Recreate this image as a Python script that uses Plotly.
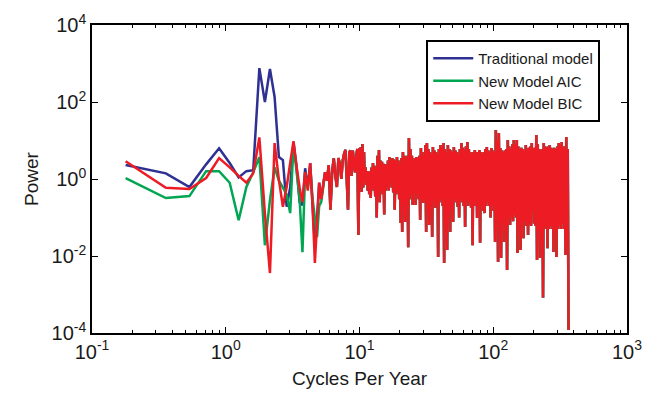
import numpy as np
import plotly.graph_objects as go

# ---------------- data ----------------
FREQ_STEP = 365.25 / 2048          # cycles per year per frequency bin
LAST_FREQ = 365.25                  # highest frequency shown
DENSE_START = 10.26                 # first frequency of the dense (>10 cpy) part

# bins k = 1..30 (values differ between models)
BLUE_LOW = [2.3, 1.4, 0.62, 2.4, 6.3, 2.6, 1.1, 1.6, 1.7, 760, 100, 720, 135, 3.7, 3.1,
            0.19, 0.6, 9.0, 2.0, 0.25, 0.21, 1.9, 0.6, 2.6, 0.2, 0.02, 0.1, 0.8, 0.3, 0.7]
RED_LOW = [2.9, 0.59, 0.55, 1.06, 3.5, 2.0, 1.2, 0.8, 1.4, 12, 0.13, 0.0036, 8.6, 0.95, 0.19,
           0.62, 2.6, 9.6, 2.0, 0.6, 0.25, 1.5, 0.5, 2.6, 0.2, 0.0066, 0.07, 0.8, 0.3, 0.7]
GREEN_LOW = [1.06, 0.32, 0.36, 1.6, 1.6, 0.8, 0.085, 0.62, 1.5, 3.7, 0.019, 0.28, 2.0, 0.9, 0.6,
             0.4, 0.13, 8.0, 1.5, 0.3, 0.0126, 1.5, 0.6, 2.0, 0.3, 0.1, 0.031, 0.2, 0.25, 0.6]

# bins k = 31..56 (models practically coincide)
SHARED_MID = [1.5, 0.9, 2.3, 0.16, 1.5, 3.5, 1.2, 0.62, 3.5, 2.5, 1.0, 3.0, 4.5, 5.7, 1.0,
              0.16, 5.0, 5.5, 1.2, 5.5, 2.5, 1.5, 4.0, 6.0, 0.035, 6.0]

# dense part (10 .. 365 cpy): successive local maxima / minima of the spectrum
DENSE_HIGH = [6.4, 8.1, 5.0, 2.0, 1.6, 1.5, 1.6, 2.0, 2.6, 2.2, 2.0, 4.0, 5.7, 3.0, 2.8, 2.5, 2.4,
              2.3, 3.0, 3.7, 3.0, 3.5, 3.2, 3.0, 3.7, 3.0, 2.5, 3.5, 5.0, 4.0, 3.5, 4.0, 11.6, 6.0,
              4.0, 3.1, 3.5, 3.7, 3.5, 4.0, 6.4, 5.0, 4.0, 7.6, 8.6, 6.0, 5.0, 4.5, 6.8, 5.5, 5.0,
              4.5, 6.0, 7.6, 6.5, 8.6, 6.0, 5.0, 7.6, 6.0, 5.5, 5.0, 6.8, 5.5, 5.0, 4.5, 6.0, 8.6,
              6.5, 5.5, 7.0, 9.1, 6.0, 5.0, 4.5, 5.0, 5.7, 5.0, 5.0, 5.7, 5.0, 4.5, 5.0, 6.0, 6.8,
              5.5, 5.0, 6.4, 5.5, 5.0, 18.7, 10.0, 15.6, 6.4, 5.5, 5.0, 5.5, 6.0, 10.3, 7.0, 6.0,
              8.0, 10.3, 8.0, 10.3, 7.0, 6.0, 6.5, 6.0, 5.5, 7.6, 6.0, 6.5, 7.0, 8.6, 6.0, 6.5,
              13.9, 8.0, 6.0, 5.5, 6.0, 8.6, 7.0, 6.5, 7.0, 7.6, 6.5, 6.0, 6.5, 6.0, 7.0, 8.6, 8.0,
              9.1, 7.0, 7.0, 12.3, 6.0]
DENSE_LOW = [0.46, 0.6, 0.9, 0.7, 0.5, 0.4, 0.32, 0.6, 0.5, 0.35, 0.1, 0.5, 0.25, 0.5, 0.4, 0.12,
             0.5, 0.6, 0.5, 0.9, 0.6, 0.45, 0.16, 0.4, 0.5, 0.3, 0.072, 0.042, 0.4, 0.076, 0.3,
             0.017, 0.3, 0.4, 0.21, 0.5, 0.21, 0.4, 0.3, 0.086, 0.3, 0.24, 0.3, 0.042, 0.35,
             0.064, 0.25, 0.031, 0.3, 0.18, 0.3, 0.0094, 0.25, 0.3, 0.2, 0.0066, 0.25, 0.0144,
             0.3, 0.042, 0.2, 0.076, 0.3, 0.25, 0.19, 0.1, 0.3, 0.25, 0.2, 0.057, 0.3, 0.2, 0.25,
             0.18, 0.019, 0.25, 0.2, 0.097, 0.25, 0.022, 0.2, 0.15, 0.13, 0.2, 0.25, 0.2, 0.1,
             0.2, 0.15, 0.023, 0.2, 0.007, 0.15, 0.0089, 0.1, 0.023, 0.08, 0.0043, 0.1, 0.064,
             0.1, 0.08, 0.12, 0.1, 0.012, 0.08, 0.0144, 0.07, 0.029, 0.08, 0.06, 0.035, 0.07,
             0.06, 0.157, 0.07, 0.06, 0.0079, 0.05, 0.0089, 0.06, 0.00083, 0.05, 0.06, 0.016,
             0.05, 0.06, 0.05, 0.0127, 0.05, 0.0094, 0.05, 0.06, 0.05, 0.07, 0.05, 0.0106, 0.06,
             0.00012]

SERIES_NAMES = ["Traditional model", "New Model AIC", "New Model BIC"]
SERIES_COLORS = ["#2E3192", "#00A651", "#ED1C24"]

X_TICKS = [0.1, 1, 10, 100, 1000]
X_TICKTEXT = ["10<sup>-1</sup>", "10<sup>0</sup>", "10<sup>1</sup>", "10<sup>2</sup>", "10<sup>3</sup>"]
Y_TICKS = [1e-4, 1e-2, 1, 1e2, 1e4]
Y_TICKTEXT = ["10<sup>-4</sup>", "10<sup>-2</sup>", "10<sup>0</sup>", "10<sup>2</sup>", "10<sup>4</sup>"]

# ---------------- build arrays ----------------
n_low = len(BLUE_LOW) + len(SHARED_MID)
x_low = np.arange(1, n_low + 1) * FREQ_STEP

dense_vals = np.empty(2 * len(DENSE_HIGH))
dense_vals[0::2] = DENSE_HIGH
dense_vals[1::2] = DENSE_LOW
x_dense = np.geomspace(DENSE_START, LAST_FREQ, len(dense_vals))

x_all = np.concatenate([x_low, x_dense])
series = [BLUE_LOW, GREEN_LOW, RED_LOW]

FONT = "Liberation Sans, Arial, Helvetica, sans-serif"

fig = go.Figure()
for name, color, low in zip(SERIES_NAMES, SERIES_COLORS, series):
    y = np.concatenate([np.array(low), np.array(SHARED_MID), dense_vals])
    fig.add_trace(go.Scatter(
        x=x_all, y=y, mode="lines", name=name,
        line=dict(color=color, width=2.5, simplify=False),
    ))

minor_x = [m * 10.0 ** d for d in range(-1, 3) for m in range(2, 10)]

fig.update_layout(
    width=657, height=399,
    margin=dict(l=92, r=30, t=25, b=66),
    paper_bgcolor="white", plot_bgcolor="white",
    font=dict(family=FONT, color="#1a1a1a", size=19),
    showlegend=True,
    legend=dict(
        x=0.95, xanchor="right", y=0.951, yanchor="top",
        bgcolor="white", bordercolor="black", borderwidth=2,
        font=dict(family=FONT, size=15, color="#1a1a1a"),
        tracegroupgap=0, itemwidth=40,
    ),
    xaxis=dict(
        type="log", range=[-1, 3],
        tickmode="array", tickvals=X_TICKS, ticktext=X_TICKTEXT,
        ticks="inside", ticklen=6, tickwidth=1, tickcolor="black",
        showline=True, linecolor="black", linewidth=1.5, mirror="allticks",
        showgrid=False, zeroline=False,
        minor=dict(tickmode="array", tickvals=minor_x, ticks="inside", ticklen=3,
                   tickcolor="black", showgrid=False),
        title=dict(text="Cycles Per Year", font=dict(size=19), standoff=10),
        tickfont=dict(size=20),
    ),
    yaxis=dict(
        type="log", range=[-4, 4],
        tickmode="array", tickvals=Y_TICKS, ticktext=Y_TICKTEXT,
        ticks="inside", ticklen=6, tickwidth=1, tickcolor="black",
        showline=True, linecolor="black", linewidth=1.5, mirror="allticks",
        showgrid=False, zeroline=False,
        title=dict(text="Power", font=dict(size=19), standoff=8),
        tickfont=dict(size=20),
    ),
)

fig.write_html("out.html")
